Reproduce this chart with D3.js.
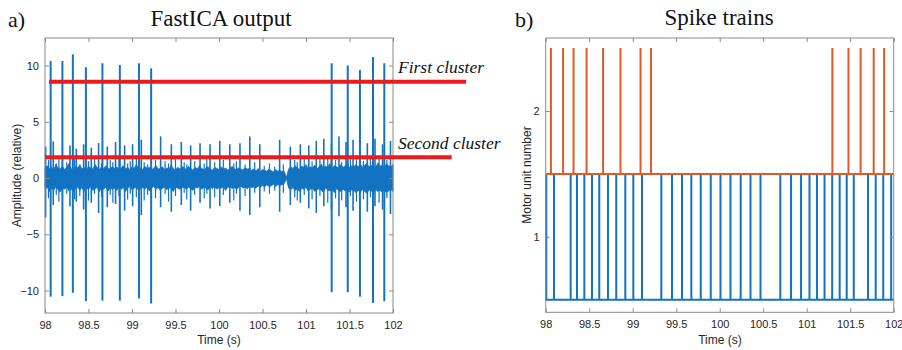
<!DOCTYPE html>
<html><head><meta charset="utf-8">
<script src="https://cdn.jsdelivr.net/npm/d3@7"></script>
<style>
html,body{margin:0;padding:0;background:#fff;}
svg{display:block;}
</style></head>
<body>
<svg id="chart" width="902" height="350"></svg>
<script>
// ---------- DATA ----------
const xTicks = [98, 98.5, 99, 99.5, 100, 100.5, 101, 101.5, 102];
const leftYTicks = [-10, -5, 0, 5, 10];
const rightYTicks = [1, 2];

// First cluster (large) spikes: times, positive and negative peaks
const bigSpikeTimes = [98.065, 98.2, 98.32, 98.47, 98.66, 98.86, 99.08, 99.22, 101.295, 101.48, 101.62, 101.77, 101.9];
const bigSpikeUp    = [10.4, 10.4, 11.0, 9.85, 10.2, 10.05, 10.2, 9.75, 10.2, 10.0, 9.6, 10.75, 10.2];
const bigSpikeDown  = [-10.55, -10.5, -10.2, -10.95, -10.9, -10.9, -10.7, -11.15, -10.15, -10.15, -10.55, -11.1, -10.95];

// Second cluster (medium) spikes
const midSpikeTimes = [98.007, 98.095, 98.287, 98.36, 98.444, 98.532, 98.616, 98.716, 98.811, 98.915, 99.007, 99.107, 99.329, 99.452, 99.567, 99.674, 99.782, 99.897, 100.009, 100.124, 100.241, 100.354, 100.469, 100.697, 100.82, 100.935, 101.032, 101.118, 101.205, 101.293, 101.379, 101.46, 101.541, 101.705, 101.793, 101.88, 101.971];
const midSpikeUp   = [2.8, 3.25, 2.9, 2.6, 3.0, 2.7, 3.1, 2.8, 3.2, 2.9, 3.0, 3.4, 3.7, 3.0, 3.2, 2.9, 3.1, 3.0, 3.3, 3.0, 3.1, 3.7, 3.0, 3.4, 2.8, 3.0, 2.9, 3.3, 3.5, 3.0, 3.7, 3.2, 3.4, 3.1, 3.5, 3.0, 3.3];
const midSpikeDown = [-3.5, -2.4, -2.5, -2.1, -2.8, -2.2, -3.1, -2.6, -2.3, -2.9, -2.5, -3.3, -2.6, -3.0, -2.4, -2.9, -2.2, -2.7, -2.5, -2.2, -2.9, -3.3, -2.6, -3.0, -2.4, -2.2, -2.7, -3.1, -2.5, -2.8, -3.4, -2.6, -2.9, -3.0, -2.5, -2.8, -3.2];

// Small excursions poking out of the noise band
const minorSpikeTimes = [98.04, 98.13, 98.16, 98.25, 98.34, 98.40, 98.50, 98.57, 98.65, 98.75, 98.78, 98.85, 98.95, 98.98, 99.05, 99.14, 99.18, 99.27, 99.38, 99.42, 99.50, 99.60, 99.63, 99.72, 99.83, 99.86, 99.95, 100.05, 100.17, 100.20, 100.30, 100.41, 100.52, 100.58, 100.64, 100.74, 100.87, 100.90, 100.98, 101.07, 101.16, 101.25, 101.34, 101.41, 101.51, 101.58, 101.66, 101.74, 101.84, 101.93];
const minorSpikeUp   = [1.6, 1.3, 1.9, 1.4, 1.7, 1.2, 1.5, 1.8, 1.3, 1.6, 1.4, 1.9, 1.3, 1.5, 1.7, 1.4, 1.2, 1.6, 1.5, 1.3, 1.8, 1.4, 1.2, 1.5, 1.3, 1.7, 1.4, 1.6, 1.3, 1.5, 1.2, 1.4, 1.1, 1.3, 1.0, 1.2, 1.6, 1.4, 1.8, 1.5, 1.7, 1.9, 1.6, 1.4, 1.8, 2.0, 1.5, 1.7, 1.9, 1.6];
const minorSpikeDown = [-1.8, -1.5, -2.1, -1.4, -1.9, -1.6, -2.0, -1.4, -1.7, -1.5, -2.2, -1.6, -1.9, -1.4, -1.7, -2.0, -1.5, -1.8, -1.4, -2.1, -1.6, -1.3, -1.9, -1.5, -1.8, -1.4, -1.7, -1.5, -2.0, -1.4, -1.6, -1.3, -1.2, -1.4, -1.1, -1.3, -1.7, -2.0, -1.5, -1.9, -1.6, -2.2, -1.8, -2.0, -1.6, -2.1, -1.9, -1.7, -2.2, -1.8];

// Background noise envelope, sampled every 0.025 s from 98 s
const noiseStart = 98, noiseStep = 0.025;
const noiseUpper = [
 0.9,1.1,0.8,1.0,0.7,1.2,0.9,0.8,1.05,0.75,0.95,1.3,0.85,0.7,1.0,0.9,1.15,0.8,0.95,0.7,1.05,0.9,0.8,1.2,0.95,0.75,1.0,0.85,1.1,0.8,0.9,1.0,
 0.85,1.0,0.75,0.9,1.1,0.8,0.95,0.7,1.0,0.85,1.2,0.8,0.9,0.75,1.05,0.85,0.95,0.7,0.9,1.1,0.8,0.85,1.0,0.75,0.9,0.8,1.15,0.85,0.7,0.95,0.8,1.0,
 0.9,0.75,1.05,0.85,0.7,0.95,0.8,1.1,0.85,0.75,0.9,1.0,0.8,0.7,0.95,0.85,0.75,1.0,0.8,0.9,0.7,0.85,1.05,0.8,0.75,0.9,0.8,0.7,0.95,0.8,0.85,0.7,
 0.8,0.65,0.85,0.6,0.75,0.7,0.6,0.8,0.65,0.55,0.75,0.6,0.7,0.55,0.6,0.05,
 0.8,1.0,0.85,1.1,0.9,0.75,1.05,0.95,1.2,0.85,1.0,0.9,1.15,0.8,1.0,1.25,0.9,1.05,0.95,1.3,0.85,1.1,1.0,0.9,1.2,0.95,1.05,1.35,0.9,1.1,1.0,1.2,
 1.0,1.25,0.95,1.15,1.3,1.0,1.1,1.2,0.9,1.35,1.05,1.15,0.95,1.25,1.1,1.0,1.2];
const noiseLower = [
 -1.0,-0.8,-1.2,-0.9,-1.1,-0.75,-1.05,-1.25,-0.85,-1.0,-0.8,-1.15,-0.9,-1.3,-0.95,-0.8,-1.1,-0.85,-1.2,-0.9,-1.0,-0.75,-1.1,-0.95,-0.85,-1.2,-0.9,-1.0,-0.8,-1.15,-0.9,-1.0,
 -0.9,-1.1,-0.8,-1.0,-0.85,-1.2,-0.9,-0.75,-1.05,-0.9,-0.8,-1.1,-0.95,-0.85,-1.0,-0.8,-1.15,-0.9,-0.75,-1.0,-0.85,-1.1,-0.9,-0.8,-1.05,-0.85,-0.95,-1.2,-0.8,-0.9,-1.0,-0.85,
 -0.85,-1.0,-0.8,-0.95,-1.1,-0.8,-0.9,-0.75,-1.0,-0.85,-0.9,-1.05,-0.8,-0.95,-0.75,-1.0,-0.85,-0.9,-0.8,-1.1,-0.85,-0.75,-0.95,-0.8,-1.0,-0.85,-0.7,-0.9,-0.8,-0.95,-0.75,-0.85,
 -0.8,-0.9,-0.7,-0.85,-0.65,-0.8,-0.6,-0.75,-0.7,-0.55,-0.75,-0.6,-0.65,-0.6,-0.5,-0.05,
 -0.9,-1.05,-0.85,-1.1,-0.95,-1.2,-0.9,-1.0,-0.85,-1.15,-1.0,-0.9,-1.2,-1.05,-0.95,-1.1,-1.25,-0.9,-1.05,-1.15,-1.0,-1.3,-0.95,-1.1,-1.2,-1.0,-1.15,-0.95,-1.25,-1.05,-1.1,-1.3,
 -1.1,-1.25,-1.0,-1.2,-1.35,-1.05,-1.15,-1.3,-1.0,-1.2,-1.1,-1.25,-1.05,-1.3,-1.15,-1.0,-1.2];

// Cluster threshold lines (annotation)
const clusterNames = ["First cluster", "Second cluster"];
const clusterLevels = [8.55, 1.85];
const clusterStart = [98.046, 98.0];
const clusterEnd = [102.84, 102.675];

// Spike trains (right panel)
const unit1Times = midSpikeTimes;   // motor unit 1 (blue)
const unit2Times = [98.06, 98.2, 98.32, 98.47, 98.66, 98.86, 99.09, 99.21, 101.295, 101.48, 101.62, 101.77, 101.89]; // motor unit 2 (orange)
const unitBase = [0.5, 1.5];
const unitHeight = 1;

// ---------- DRAWING ----------
const svg = d3.select("#chart");
const BLUE = "#1273c2", ORANGE = "#e05a26", RED = "#f01818";
const AXC = "#8a8a8a", TXT = "#262626";
const sans = "'Liberation Sans', Arial, Helvetica, sans-serif";
const serif = "'Liberation Serif', 'Times New Roman', serif";

function drawAxes(g, x, y, yTicks) {
  const [x0, x1] = x.range(); const [y0, y1] = y.range();
  const fmt = d3.format("");
  const bottom = g.append("g").attr("transform", `translate(0,${y0})`)
    .call(d3.axisBottom(x).tickValues(xTicks).tickSize(-4).tickPadding(8).tickFormat(fmt));
  const top = g.append("g").attr("transform", `translate(0,${y1})`)
    .call(d3.axisTop(x).tickValues(xTicks).tickSize(-4).tickFormat(""));
  const left = g.append("g").attr("transform", `translate(${x0},0)`)
    .call(d3.axisLeft(y).tickValues(yTicks).tickSize(-4).tickPadding(6).tickFormat(fmt));
  const right = g.append("g").attr("transform", `translate(${x1},0)`)
    .call(d3.axisRight(y).tickValues(yTicks).tickSize(-4).tickFormat(""));
  [bottom, top, left, right].forEach(a => {
    a.select(".domain").remove();
    a.selectAll("line").attr("stroke", AXC);
    a.selectAll("text").attr("fill", TXT).style("font-family", sans).style("font-size", "11px");
  });
  g.append("rect").attr("x", x0).attr("y", y1).attr("width", x1 - x0).attr("height", y0 - y1)
    .attr("fill", "none").attr("stroke", AXC).attr("stroke-width", 1);
}

// ----- Left panel -----
const xL = d3.scaleLinear().domain([98, 102]).range([45, 393]);
const yL = d3.scaleLinear().domain([-12, 12.45]).range([313, 38]);
const gL = svg.append("g");

const noiseData = noiseUpper.map((u, i) => ({t: noiseStart + i * noiseStep, u, l: noiseLower[i]}));
gL.append("path").datum(noiseData)
  .attr("d", d3.area().x(d => xL(d.t)).y0(d => yL(d.l)).y1(d => yL(d.u)))
  .attr("fill", BLUE).attr("stroke", BLUE).attr("stroke-width", 0.8);

gL.selectAll(".minor").data(minorSpikeTimes).join("line")
  .attr("x1", d => xL(d)).attr("x2", d => xL(d))
  .attr("y1", (d, i) => yL(minorSpikeDown[i])).attr("y2", (d, i) => yL(minorSpikeUp[i]))
  .attr("stroke", BLUE).attr("stroke-width", 1.2);

gL.selectAll(".mid").data(midSpikeTimes).join("line")
  .attr("x1", d => xL(d)).attr("x2", d => xL(d))
  .attr("y1", (d, i) => yL(midSpikeDown[i])).attr("y2", (d, i) => yL(midSpikeUp[i]))
  .attr("stroke", BLUE).attr("stroke-width", 1.6);

gL.selectAll(".big").data(bigSpikeTimes).join("line")
  .attr("x1", d => xL(d)).attr("x2", d => xL(d))
  .attr("y1", (d, i) => yL(bigSpikeDown[i])).attr("y2", (d, i) => yL(bigSpikeUp[i]))
  .attr("stroke", BLUE).attr("stroke-width", 2);

drawAxes(gL, xL, yL, leftYTicks);

// threshold lines + labels
clusterLevels.forEach((v, i) => {
  svg.append("line").attr("x1", xL(clusterStart[i])).attr("x2", xL(clusterEnd[i]))
    .attr("y1", yL(v)).attr("y2", yL(v))
    .attr("stroke", RED).attr("stroke-width", 4);
  svg.append("text").attr("x", 398).attr("y", yL(v) - 8.5)
    .text(clusterNames[i])
    .style("font-family", serif).style("font-style", "italic").style("font-size", "17.5px").attr("fill", "#111");
});

svg.append("text").attr("x", 219).attr("y", 344).attr("text-anchor", "middle")
  .text("Time (s)").style("font-family", sans).style("font-size", "12px").attr("fill", TXT);
svg.append("text").attr("transform", "translate(21,175.5) rotate(-90)").attr("text-anchor", "middle")
  .text("Amplitude (relative)").style("font-family", sans).style("font-size", "12px").attr("fill", TXT);
svg.append("text").attr("x", 221).attr("y", 26).attr("text-anchor", "middle")
  .text("FastICA output").style("font-family", serif).style("font-size", "23px").attr("fill", "#111");
svg.append("text").attr("x", 8).attr("y", 27).text("a)")
  .style("font-family", serif).style("font-size", "22px").attr("fill", "#111");

// ----- Right panel -----
const xR = d3.scaleLinear().domain([98, 102]).range([545.7, 893.7]);
const yR = d3.scaleLinear().domain([0.4, 2.58]).range([312.3, 38]);
const gR = svg.append("g");

function trainPoints(times, base) {
  const pts = [[98, base]];
  times.forEach(t => { pts.push([t, base], [t, base + unitHeight], [t, base]); });
  pts.push([102, base]);
  return pts;
}
const trainLine = d3.line().x(d => xR(d[0])).y(d => yR(d[1]));
[[unit1Times, unitBase[0], BLUE], [unit2Times, unitBase[1], ORANGE]].forEach(([times, base, col]) => {
  gR.append("path").datum(trainPoints(times, base)).attr("d", trainLine)
    .attr("fill", "none").attr("stroke", col).attr("stroke-width", 2).attr("stroke-linejoin", "miter");
});

drawAxes(gR, xR, yR, rightYTicks);

svg.append("text").attr("x", 720).attr("y", 343.5).attr("text-anchor", "middle")
  .text("Time (s)").style("font-family", sans).style("font-size", "12px").attr("fill", TXT);
svg.append("text").attr("transform", "translate(531,175) rotate(-90)").attr("text-anchor", "middle")
  .text("Motor unit number").style("font-family", sans).style("font-size", "12px").attr("fill", TXT);
svg.append("text").attr("x", 719).attr("y", 25).attr("text-anchor", "middle")
  .text("Spike trains").style("font-family", serif).style("font-size", "23px").attr("fill", "#111");
svg.append("text").attr("x", 515).attr("y", 27).text("b)")
  .style("font-family", serif).style("font-size", "22px").attr("fill", "#111");
</script>
</body></html>
